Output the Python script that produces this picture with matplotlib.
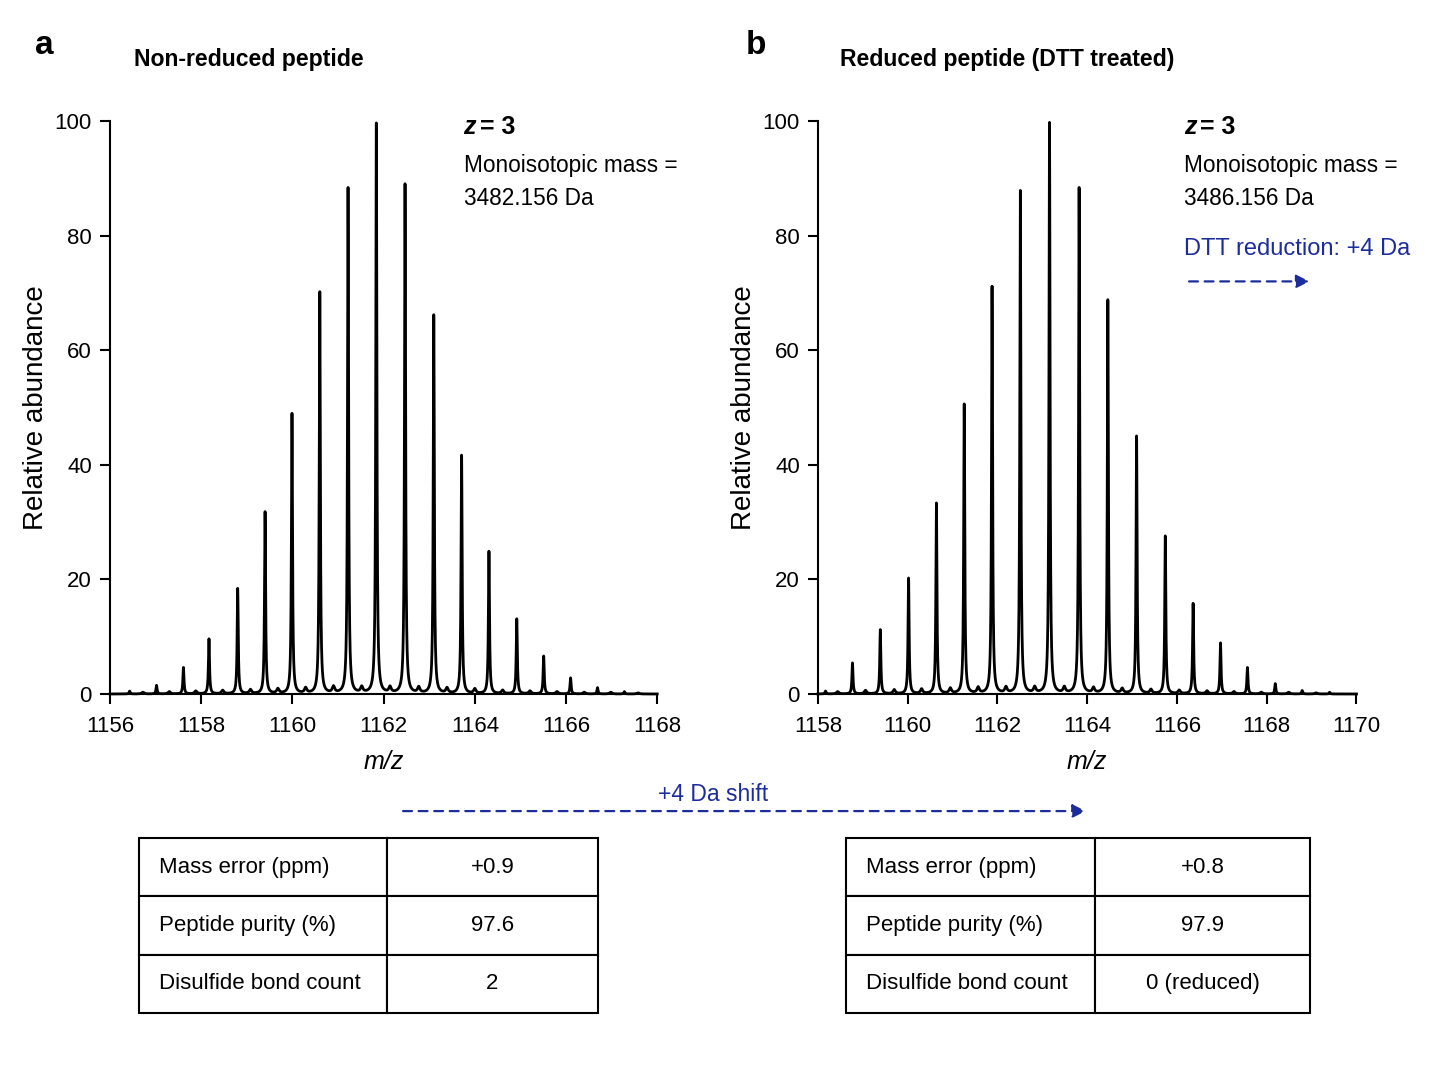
import numpy as np
import matplotlib
matplotlib.use("Agg")
import matplotlib.pyplot as plt

SANS = ["Liberation Sans", "DejaVu Sans"]
BLUE = "#1c2c9c"

# panel a: isotope peaks (m/z, relative abundance)
mz_a = [1156.43, 1157.02, 1157.61, 1158.17, 1158.80, 1159.40, 1159.99, 1160.60,
        1161.22, 1161.84, 1162.47, 1163.10, 1163.71, 1164.31, 1164.92, 1165.51,
        1166.10, 1166.69, 1167.28]
int_a = [0.5, 1.5, 4.6, 9.6, 18.4, 31.8, 49.0, 70.3, 88.6, 100.0, 89.3, 66.3,
         41.7, 24.9, 13.1, 6.6, 2.8, 1.1, 0.4]
minor_a_mz = [1156.72, 1157.30, 1157.88, 1158.47, 1159.08, 1159.68, 1160.29, 1160.90,
              1161.52, 1162.14, 1162.77, 1163.39, 1164.00, 1164.61, 1165.21, 1165.80,
              1166.40, 1166.98, 1167.58]
minor_a_int = [0.3, 0.4, 0.5, 0.6, 0.7, 0.8, 0.9, 1.1, 1.0, 1.0, 1.0, 0.9,
               0.8, 0.6, 0.5, 0.4, 0.3, 0.3, 0.2]

# panel b: isotope peaks
mz_b = [1158.17, 1158.77, 1159.39, 1160.02, 1160.64, 1161.26, 1161.88, 1162.51,
        1163.16, 1163.82, 1164.46, 1165.10, 1165.74, 1166.36, 1166.97, 1167.57,
        1168.19, 1168.79, 1169.40]
int_b = [0.5, 5.4, 11.2, 20.2, 33.3, 50.6, 71.2, 88.0, 100.0, 88.7, 69.0, 45.1,
         27.6, 15.8, 8.9, 4.6, 1.8, 0.6, 0.3]
minor_b_mz = [1158.44, 1159.06, 1159.70, 1160.31, 1160.95, 1161.57, 1162.19, 1162.83,
              1163.49, 1164.14, 1164.78, 1165.42, 1166.05, 1166.67, 1167.27, 1167.88,
              1168.49, 1169.10]
minor_b_int = [0.4, 0.6, 0.7, 0.8, 0.9, 1.0, 1.0, 1.0, 1.0, 0.9, 0.8, 0.7,
               0.6, 0.5, 0.4, 0.3, 0.3, 0.2]

rows = ["Mass error (ppm)", "Peptide purity (%)", "Disulfide bond count"]
vals_a = ["+0.9", "97.6", "2"]
vals_b = ["+0.8", "97.9", "0 (reduced)"]


def profile(x, centers, heights, w=0.014):
    y = np.zeros_like(x)
    for c, h in zip(centers, heights):
        y += h * w**2 / ((x - c)**2 + w**2)
    return y


fig = plt.figure(figsize=(14.4, 10.8), dpi=100)


def spectrum(rect, xlim, mz, inten, mmz, mint, tx, info):
    ax = fig.add_axes(rect)
    x = np.linspace(xlim[0], xlim[1], 6000)
    y = profile(x, mz, inten) + profile(x, mmz, mint, w=0.03)
    ax.plot(x, y, color="black", lw=2.0, clip_on=False)
    ax.set_xlim(xlim)
    ax.set_ylim(0, 100)
    ax.set_xticks(np.arange(xlim[0], xlim[1] + 1, 2))
    ax.set_yticks([0, 20, 40, 60, 80, 100])
    for s in ["top", "right"]:
        ax.spines[s].set_visible(False)
    for s in ["left", "bottom"]:
        ax.spines[s].set_linewidth(1.5)
    ax.tick_params(width=1.5, length=7, labelsize=16)
    ax.tick_params(axis="x", pad=9)
    ax.tick_params(axis="y", pad=6)
    for t in ax.get_xticklabels() + ax.get_yticklabels():
        t.set_fontfamily(SANS)
    ax.set_xlabel("m/z", fontsize=18, style="italic", family=SANS, labelpad=9)
    ax.set_ylabel("Relative abundance", fontsize=20, family=SANS, labelpad=4)
    ax.text(tx, 0.9895, "z", transform=ax.transAxes, fontsize=18, fontweight="bold",
            style="italic", family=SANS, va="center")
    ax.text(tx + 0.03, 0.9895, "= 3", transform=ax.transAxes, fontsize=18,
            fontweight="bold", family=SANS, va="center")
    ax.text(tx, 0.942, "Monoisotopic mass =\n" + info, transform=ax.transAxes,
            fontsize=16.3, family=SANS, va="top", linespacing=1.55)
    return ax


ax_a = spectrum([0.0764, 0.3574, 0.380, 0.5306], (1156, 1168), mz_a, int_a,
                minor_a_mz, minor_a_int, 0.646, "3482.156 Da")
ax_b = spectrum([0.568, 0.3574, 0.374, 0.5306], (1158, 1170), mz_b, int_b,
                minor_b_mz, minor_b_int, 0.680, "3486.156 Da")

ax_b.text(0.680, 0.7765, "DTT reduction: +4 Da", transform=ax_b.transAxes,
          fontsize=17, family=SANS, color=BLUE, va="center")
ax_b.annotate("", xy=(0.918, 0.72), xytext=(0.684, 0.72), xycoords="axes fraction",
              arrowprops=dict(arrowstyle="-|>", color=BLUE, lw=1.6, ls=(0, (4, 3)),
                              mutation_scale=20))

# panel labels and titles
fig.text(0.024, 0.958, "a", fontsize=24, fontweight="bold", family=SANS, va="center")
fig.text(0.518, 0.958, "b", fontsize=24, fontweight="bold", family=SANS, va="center")
fig.text(0.093, 0.945, "Non-reduced peptide", fontsize=16.6, fontweight="bold",
         family=SANS, va="center")
fig.text(0.583, 0.945, "Reduced peptide (DTT treated)", fontsize=16.6, fontweight="bold",
         family=SANS, va="center")

# shift arrow
fig.text(0.495, 0.264, "+4 Da shift", fontsize=16.5, family=SANS, color=BLUE,
         ha="center", va="center")
fig.patches.append(matplotlib.patches.FancyArrowPatch(
    (0.278, 0.249), (0.756, 0.249), transform=fig.transFigure, arrowstyle="-|>",
    color=BLUE, lw=1.6, ls=(0, (4, 3)), mutation_scale=20))


def table(rect, split, vals):
    tax = fig.add_axes(rect)
    tax.axis("off")
    tb = tax.table(cellText=[[r, v] for r, v in zip(rows, vals)], bbox=[0, 0, 1, 1],
                   colWidths=[split, 1 - split], cellLoc="center")
    tb.auto_set_font_size(False)
    for (r, c), cell in tb.get_celld().items():
        cell.set_linewidth(1.5)
        cell.get_text().set_fontsize(16)
        cell.get_text().set_fontfamily(SANS)
        if c == 0:
            cell._loc = "left"
            cell.PAD = 0.08
            cell.get_text().set_ha("left")
    return tax


table([0.0965, 0.062, 0.3188, 0.162], 0.54, vals_a)
table([0.5875, 0.062, 0.3222, 0.162], 0.537, vals_b)

fig.savefig("out.png", dpi=100, facecolor="white")
